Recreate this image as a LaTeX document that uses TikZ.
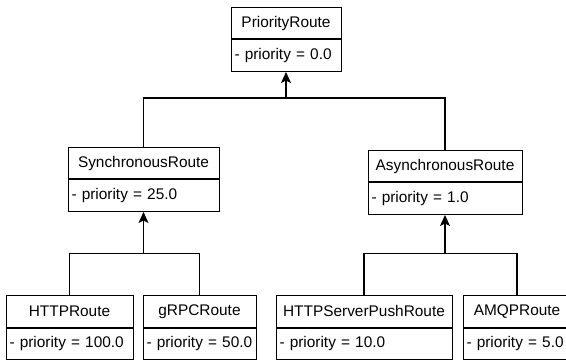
\documentclass[tikz,border=0pt]{standalone}
\usepackage{fontspec}
\setmainfont{Liberation Sans}
\usetikzlibrary{arrows.meta}
\begin{document}
\begin{tikzpicture}[x=1pt, y=-1pt,
  classname/.style={draw, line width=1pt, inner sep=0pt, minimum height=31.5pt,
    font=\fontsize{15.4}{18}\selectfont},
  classattr/.style={classname, anchor=north, align=left, inner xsep=3.5pt, inner ysep=0pt},
  link/.style={line width=1.2pt},
  inherit/.style={link, -{Stealth[length=11pt, width=10pt, inset=2.5pt]}}]
\useasboundingbox (0,0) rectangle (566,361);

% root class
\node[classname, minimum width=110pt, anchor=north] (p) at (286,7) {PriorityRoute};
\node[classattr, text width=103pt] (pa) at (p.south) {- priority = 0.0};

% second level
\node[classname, minimum width=151pt, anchor=north] (s) at (143.5,147) {SynchronousRoute};
\node[classattr, text width=144pt] (sa) at (s.south) {- priority = 25.0};

\node[classname, minimum width=154pt, anchor=north] (a) at (445,150) {AsynchronousRoute};
\node[classattr, text width=147pt] (aa) at (a.south) {- priority = 1.0};

% leaf classes
\node[classname, minimum width=127pt, anchor=north] (h) at (69.5,295) {HTTPRoute};
\node[classattr, text width=120pt] (ha) at (h.south) {- priority = 100.0};

\node[classname, minimum width=113pt, anchor=north] (g) at (199.5,295) {gRPCRoute};
\node[classattr, text width=106pt] (ga) at (g.south) {- priority = 50.0};

\node[classname, minimum width=176pt, anchor=north] (hs) at (364,295) {HTTPServerPushRoute};
\node[classattr, text width=169pt] (hsa) at (hs.south) {- priority = 10.0};

\node[classname, minimum width=108pt, anchor=north] (m) at (517,295) {AMQPRoute};
\node[classattr, text width=101pt] (ma) at (m.south) {- priority = 5.0};

% junctions of the inheritance trees
\coordinate (jtop) at (286,98);
\coordinate (jsync) at (143.5,253.5);
\coordinate (jasync) at (445,253.5);

% generalisation connectors
\draw[inherit] (s.north) |- (jtop) -- (pa.south);
\draw[link] (a.north) |- (jtop);

\draw[inherit] (h.north) |- (jsync) -- (sa.south);
\draw[link] (g.north) |- (jsync);

\draw[inherit] (hs.north) |- (jasync) -- (aa.south);
\draw[link] (m.north) |- (jasync);
\end{tikzpicture}
\end{document}
